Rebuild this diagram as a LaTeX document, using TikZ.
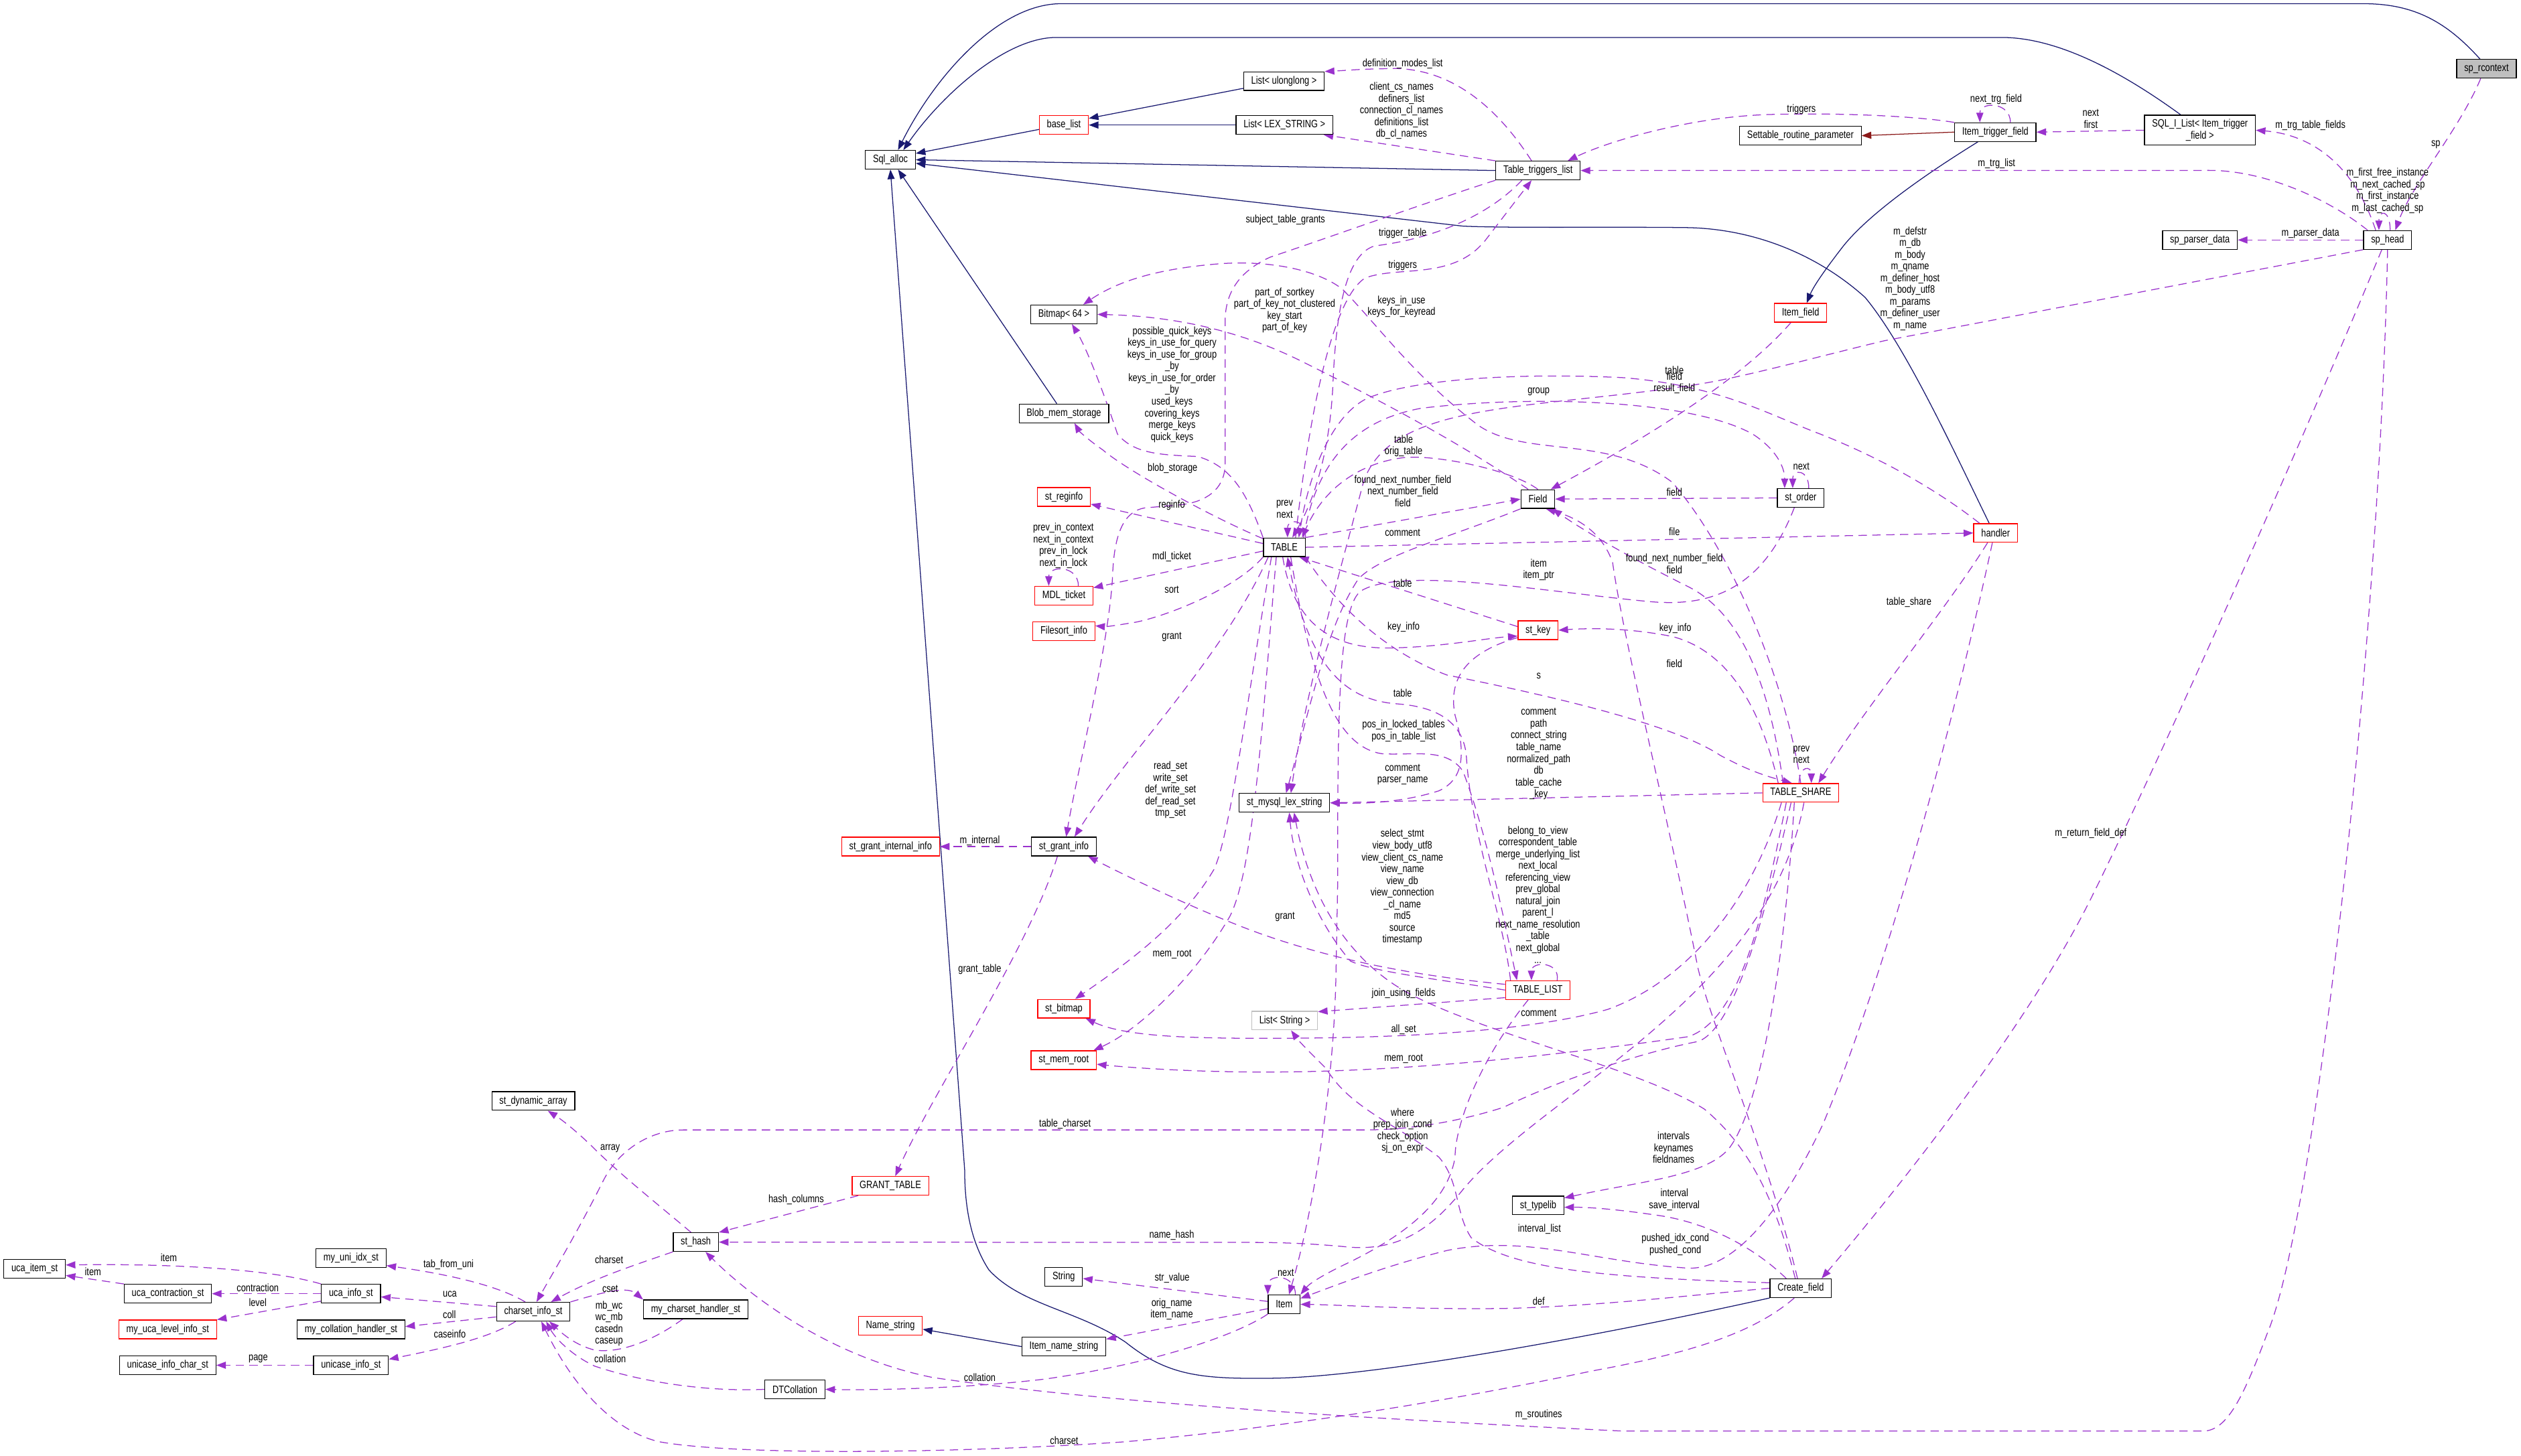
\documentclass[tikz,border=0pt]{standalone}
\usepackage{fontspec}
\setmainfont{Liberation Sans}[FakeStretch=0.8]
\usetikzlibrary{arrows.meta, positioning}
\definecolor{inhcol}{HTML}{191970}
\definecolor{memcol}{HTML}{9A32CD}
\definecolor{usecol}{HTML}{8B1A1A}
\definecolor{boxgray}{HTML}{BFBFBF}
\pgfdeclarelayer{edges}
\pgfsetlayers{edges,main}

\begin{document}
\begin{tikzpicture}[
        x=0.05cm, y=-0.05cm,
        box/.style  = {draw, fill=white, line width=0.75pt, inner xsep=0.235cm, inner ysep=0pt, minimum height=0.58cm, font=\fontsize{9.5}{10.4}\selectfont},
        rbox/.style = {box, draw=red},
        gbox/.style = {box, fill=boxgray},
        lbox/.style = {box, draw=boxgray},
        lbl/.style  = {inner sep=0pt, align=center, font=\fontsize{9.5}{10.4}\selectfont},
        inh/.style  = {draw=inhcol, line width=0.75pt, -{Triangle[length=0.3cm, width=0.22cm]}},
        use/.style  = {draw=usecol, line width=0.75pt, -{Triangle[length=0.3cm, width=0.22cm]}},
        mem/.style  = {draw=memcol, line width=0.75pt, dash pattern=on 0.26cm off 0.17cm, -{Triangle[length=0.3cm, width=0.22cm]}}
    ]
        \useasboundingbox (0,0) rectangle (1568,905.5);

        \node[gbox] (sprc)        at (1546.5,42.8)  {sp\_rcontext};
        \node[box]  (sqlalloc)    at (553.8,99.4)   {Sql\_alloc};
        \node[rbox] (baselist)    at (661.7,77.8)   {base\_list};
        \node[box]  (listull)     at (798.6,50.5)   {List< ulonglong >};
        \node[box]  (listlex)     at (798.9,77.8)   {List< LEX\_STRING >};
        \node[box]  (ttl)         at (956.6,106.1)  {Table\_triggers\_list};
        \node[box]  (srp)         at (1119.8,84.4)  {Settable\_routine\_parameter};
        \node[box]  (itf)         at (1241,82.2)    {Item\_trigger\_field};
        \node[box, align=center, minimum height=0.935cm] (sqlil) at (1368.3,81) {SQL\_I\_List< Item\_trigger\\\_field >};
        \node[box]  (sphead)      at (1485,149.3)   {sp\_head};
        \node[box]  (spparser)    at (1368.3,149.3) {sp\_parser\_data};
        \node[rbox] (itemfield)   at (1119.9,194.6) {Item\_field};
        \node[box]  (bitmap)      at (661.7,195.6)  {Bitmap< 64 >};
        \node[box]  (blob)        at (661.7,257.2)  {Blob\_mem\_storage};
        \node[rbox] (reginfo)     at (661.7,309.2)  {st\_reginfo};
        \node[rbox] (mdl)         at (661.7,370.6)  {MDL\_ticket};
        \node[rbox] (filesort)    at (661.7,392.8)  {Filesort\_info};
        \node[box]  (table)       at (798.8,340.5)  {TABLE};
        \node[box]  (field)       at (956.5,310.5)  {Field};
        \node[box]  (order)       at (1120,309.8)   {st\_order};
        \node[rbox] (handler)     at (1241.2,331.6) {handler};
        \node[rbox] (key)         at (956.6,392.1)  {st\_key};
        \node[box]  (lexstr)      at (798.9,499.5)  {st\_mysql\_lex\_string};
        \node[rbox] (share)       at (1120,493.3)   {TABLE\_SHARE};
        \node[box]  (grantinfo)   at (661.7,526.7)  {st\_grant\_info};
        \node[rbox] (grantint)    at (553.9,526.7)  {st\_grant\_internal\_info};
        \node[rbox] (tlist)       at (956.5,616)    {TABLE\_LIST};
        \node[lbox] (liststr)     at (799,635)      {List< String >};
        \node[rbox] (bitmapst)    at (661.7,627.6)  {st\_bitmap};
        \node[rbox] (memroot)     at (661.6,659.6)  {st\_mem\_root};
        \node[box]  (dynarr)      at (331.7,685)    {st\_dynamic\_array};
        \node[rbox] (granttab)    at (553.8,737.8)  {GRANT\_TABLE};
        \node[box]  (hash)        at (432.8,772.8)  {st\_hash};
        \node[box]  (typelib)     at (956.7,750)    {st\_typelib};
        \node[box]  (ucaitem)     at (21.5,789.4)   {uca\_item\_st};
        \node[box]  (uniidx)      at (218.3,782.7)  {my\_uni\_idx\_st};
        \node[box]  (ucacontr)    at (104.4,804.9)  {uca\_contraction\_st};
        \node[box]  (ucainfo)     at (218.3,804.9)  {uca\_info\_st};
        \node[rbox] (ucalevel)    at (104.3,827.1)  {my\_uca\_level\_info\_st};
        \node[box]  (collhandler) at (218.3,827.1)  {my\_collation\_handler\_st};
        \node[box]  (csinfo)      at (331.7,816.1)  {charset\_info\_st};
        \node[box]  (unicasechar) at (104.3,849.4)  {unicase\_info\_char\_st};
        \node[box]  (unicaseinfo) at (218.3,849.4)  {unicase\_info\_st};
        \node[box]  (cshandler)   at (432.7,814.6)  {my\_charset\_handler\_st};
        \node[box]  (string)      at (661.6,794.4)  {String};
        \node[box]  (item)        at (798.7,811.5)  {Item};
        \node[rbox] (namestr)     at (553.8,824.9)  {Name\_string};
        \node[box]  (itemname)    at (661.7,837.8)  {Item\_name\_string};
        \node[box]  (dtcoll)      at (494.4,864.4)  {DTCollation};
        \node[box]  (createfield) at (1120,801.5)   {Create\_field};

        \begin{pgfonlayer}{edges}
        \draw[inh] ([xshift=-0.2cm]sprc.north) .. controls (1522,14) and (1502,2.3) .. (1470,2.3) -- (660,2.3) .. controls (620,2.3) and (580,50) .. (sqlalloc.52);
        \draw[inh] ([xshift=-0.6cm]sqlil.north) .. controls (1320,45) and (1280,23.3) .. (1245,23.3) -- (657,23.3) .. controls (625,23.3) and (585,60) .. (sqlalloc.37);
        \draw[inh] (baselist.190) -- (sqlalloc.14);
        \draw[inh] (listull.190) -- (baselist.15);
        \draw[inh] (listlex.west) -- (baselist.east);
        \draw[inh] (ttl.west) -- (sqlalloc.east);
        \draw[inh] ([xshift=-0.2cm]handler.north) .. controls (1215,280) and (1185,215) .. (1160,185) .. controls (1130,158) and (1090,142) .. (1048,141.6) .. controls (1000,141) and (940,142) .. (910,140.7) -- (sqlalloc.-8);
        \draw[inh] ([xshift=-0.22cm]blob.north) -- (sqlalloc.-52);
        \draw[inh] (createfield.south west) .. controls (1000,830) and (850,858) .. (787,857.5) .. controls (745,858) and (725,855) .. (700,835) .. controls (670,815) and (635,812) .. (615,790) .. controls (602,770) and (600,745) .. (600,728) -- (sqlalloc.south);
        \draw[inh] (itemname.west) -- (namestr.-6);
        \draw[inh] ([xshift=-0.54cm]itf.south) .. controls (1195,110) and (1160,135) .. (1145,155) .. controls (1135,168) and (1128,178) .. ([xshift=0.19cm]itemfield.north);
        \draw[use] (itf.west) -- (srp.east);

        \draw[mem] ([xshift=-0.18cm]sprc.south) .. controls (1530,80) and (1500,115) .. ([xshift=0.24cm]sphead.north);
        \draw[mem] ([xshift=0.08cm]sphead.north) .. controls +(0,-13) and +(0,-13) .. ([xshift=-0.27cm]sphead.north);
        \draw[mem] ([xshift=-0.37cm]sphead.north) .. controls (1465,105) and (1440,84) .. (sqlil.east);
        \draw[mem] (sqlil.west) -- (itf.east);
        \draw[mem] ([xshift=0.47cm]itf.north) .. controls +(0,-13) and +(0,-13) .. ([xshift=-0.48cm]itf.north);
        \draw[mem] (itf.north west) .. controls (1190,72) and (1140,70) .. (1099,71.3) .. controls (1050,73) and (1000,88) .. ([xshift=-0.4cm]ttl.north east);
        \draw[mem] ([xshift=-0.62cm]sphead.north) .. controls (1450,125) and (1410,106) .. (1374,106) -- (ttl.east);
        \draw[mem] (sphead.west) -- (spparser.east);
        \draw[mem] (sphead.south west) -- (1172,212) .. controls (1130,222) and (1080,236) .. (1050,240) .. controls (950,255) and (865,250) .. (848,300) .. controls (835,350) and (812,430) .. ([xshift=0.2cm]lexstr.north);
        \draw[mem] ([xshift=-0.18cm]sphead.south) .. controls (1430,280) and (1340,480) .. (1300,560) .. controls (1260,640) and (1180,740) .. ([xshift=0.65cm]createfield.north);
        \draw[mem] (sphead.south) .. controls (1480,400) and (1440,760) .. (1410,830) .. controls (1395,870) and (1385,890.4) .. (1370,890.4) -- (1010,890.4) .. controls (900,885) and (700,875) .. (580,857) .. controls (520,845) and (470,810) .. ([xshift=0.3cm]hash.south);

        \draw[mem] ([xshift=-0.5cm]handler.north) .. controls (1205,305) and (1170,285) .. (1132,270) .. controls (1100,258) and (1070,240) .. (1010,235) .. controls (950,232) and (880,235) .. (850,248) .. controls (830,258) and (815,290) .. ([xshift=0.45cm]table.north);
        \draw[mem] ([xshift=-0.25cm]handler.south) .. controls (1210,380) and (1160,440) .. ([xshift=0.55cm]share.north);
        \draw[mem] ([xshift=-0.1cm]handler.south) .. controls (1215,450) and (1175,600) .. (1134,699) .. controls (1110,750) and (1080,790) .. (1050,789) .. controls (990,785) and (950,768) .. (900,778) .. controls (860,788) and (830,800) .. (item.20);
        \draw[mem] (table.east) -- (handler.west);
        \draw[mem] (table.north east) .. controls +(0,-12) and +(0,-12) .. ([xshift=0.1cm]table.north);
        \draw[mem] ([xshift=-0.5cm]ttl.south) .. controls (920,140) and (880,150) .. (855,153) .. controls (838,158) and (831,190) .. (829,240) .. controls (827,280) and (818,310) .. ([xshift=0.25cm]table.north);
        \draw[mem] ([xshift=0.35cm]table.north) .. controls (815,250) and (830,185) .. (849,173) .. controls (870,165) and (905,175) .. (925,148) .. controls (935,135) and (945,122) .. ([xshift=-0.2cm]ttl.south);
        \draw[mem] ([xshift=-0.2cm]ttl.north) .. controls (930,65) and (900,40) .. (860,42.8) .. controls (845,43) and (835,44) .. (listull.north east);
        \draw[mem] (ttl.north west) -- ([xshift=-0.3cm]listlex.south east);
        \draw[mem] ([xshift=-0.3cm]itemfield.south) .. controls (1080,240) and (1010,280) .. ([xshift=0.4cm]field.north);
        \draw[mem] ([xshift=0.6cm]table.north) .. controls (818,290) and (840,262) .. (884,254) .. controls (950,246) and (1050,248) .. (1090,270) .. controls (1104,279) and (1110,290) .. ([xshift=-0.5cm]order.north);
        \draw[mem] ([xshift=0.25cm]order.north) .. controls +(0,-12) and +(0,-12) .. ([xshift=-0.25cm]order.north);
        \draw[mem] (order.west) -- (field.east);
        \draw[mem] ([xshift=-0.2cm]order.south) .. controls (1095,370) and (1060,378) .. (1023,374) .. controls (960,368) and (870,352) .. (846,368) .. controls (832,380) and (832,450) .. (832,550) -- (831,602) .. controls (830,680) and (815,760) .. ([xshift=0.15cm]item.north);
        \draw[mem] (field.north) .. controls (940,292) and (890,282) .. (871,285) .. controls (850,288) and (825,300) .. ([xshift=0.55cm]table.north);
        \draw[mem] (table.north east) -- (field.west);
        \draw[mem] ([xshift=-0.3cm]field.north) .. controls (900,270) and (840,240) .. (810,225) .. controls (780,210) and (740,197) .. (bitmap.east);
        \draw[mem] (share.north) .. controls (1110,420) and (1075,340) .. (1040,300) .. controls (1000,270) and (950,285) .. (920,265) .. controls (880,235) and (855,200) .. (835,180) .. controls (820,168) and (790,162) .. (760,164) .. controls (720,167) and (695,175) .. ([xshift=0.6cm]bitmap.north);
        \draw[mem] (table.north west) .. controls (775,305) and (765,290) .. (745,284) .. controls (720,283) and (705,282) .. (695,270) .. controls (685,240) and (675,215) .. ([xshift=0.25cm]bitmap.south);
        \draw[mem] (table.158) .. controls (750,320) and (700,292) .. (686,280) .. controls (676,273) and (671,268) .. ([xshift=0.33cm]blob.south);
        \draw[mem] (table.170) -- (reginfo.-15);
        \draw[mem] (table.190) -- (mdl.15);
        \draw[mem] ([xshift=0.45cm]mdl.north) .. controls +(0,-13) and +(0,-13) .. ([xshift=-0.47cm]mdl.north);
        \draw[mem] (table.south west) .. controls (770,365) and (730,382) .. (707,387) .. controls (695,389) and (688,390) .. (filesort.10);
        \draw[mem] ([xshift=-0.5cm]table.south) .. controls (760,410) and (700,470) .. ([xshift=0.33cm]grantinfo.north);
        \draw[mem] (ttl.south west) .. controls (890,125) and (820,150) .. (790,160) .. controls (768,170) and (762,185) .. (762,200) -- (762,290) .. controls (761,305) and (750,312) .. (735,314) -- (712,316) .. controls (700,318) and (693,330) .. (692,358) .. controls (690,400) and (670,480) .. ([xshift=0.07cm]grantinfo.north);
        \draw[mem] ([xshift=-0.4cm]table.south) .. controls (775,440) and (765,520) .. (755,541) .. controls (735,575) and (700,600) .. ([xshift=0.35cm]bitmapst.north);
        \draw[mem] ([xshift=-0.25cm]table.south) .. controls (785,450) and (780,540) .. (765,570) .. controls (745,605) and (710,640) .. ([xshift=-0.1cm]memroot.north east);
        \draw[mem] ([xshift=-0.05cm]table.south) .. controls (805,390) and (830,405) .. (870,403) .. controls (900,402) and (925,397) .. (key.196);
        \draw[mem] (key.170) -- ([xshift=-0.2cm]table.south east);
        \draw[mem] (table.south east) .. controls (830,375) and (860,405) .. (900,420) .. controls (960,432) and (1040,450) .. (1070,470) .. controls (1085,478) and (1095,482) .. ([xshift=-0.27cm]share.north);
        \draw[mem] ([xshift=-0.05cm]share.north) .. controls +(0,-11) and +(0,-11) .. ([xshift=0.33cm]share.north);
        \draw[mem] ([xshift=-0.7cm]share.north) .. controls (1095,440) and (1075,405) .. (1040,396) .. controls (1010,390) and (985,391) .. (key.east);
        \draw[mem] ([xshift=-0.55cm]share.north) .. controls (1100,420) and (1080,380) .. (1050,365) .. controls (1010,345) and (985,330) .. ([xshift=0.45cm]field.south);
        \draw[mem] ([xshift=-0.1cm]createfield.north) .. controls (1100,720) and (1065,640) .. (1056,602) .. controls (1040,520) and (1010,400) .. (1003,350) .. controls (996,330) and (980,322) .. ([xshift=0.25cm]field.south);
        \draw[mem] (share.west) -- (lexstr.east);
        \draw[mem] (key.200) .. controls (915,405) and (900,420) .. (905,445) .. controls (912,470) and (910,485) .. (895,492) .. controls (870,500) and (845,500) .. (lexstr.east);
        \draw[mem] (field.south west) .. controls (900,335) and (860,345) .. (845,360) .. controls (825,390) and (815,440) .. ([xshift=0.05cm]lexstr.north);
        \draw[mem] (tlist.west) .. controls (900,610) and (855,605) .. (840,598) .. controls (820,575) and (805,540) .. ([xshift=0.15cm]lexstr.south);
        \draw[mem] ([xshift=-0.17cm]createfield.north) .. controls (1105,750) and (1090,715) .. (1060,690) .. controls (1020,665) and (930,645) .. (880,620) .. controls (840,600) and (815,560) .. ([xshift=0.3cm]lexstr.south);
        \draw[mem] ([xshift=-0.85cm]tlist.north) .. controls (935,570) and (915,520) .. (912,470) .. controls (910,450) and (895,440) .. (870,438) .. controls (840,436) and (815,420) .. ([xshift=0.1cm]table.south);
        \draw[mem] ([xshift=0.2cm]table.south) .. controls (815,420) and (830,465) .. (860,469) .. controls (880,470) and (900,465) .. (910,480) .. controls (925,520) and (935,570) .. ([xshift=-0.65cm]tlist.north);
        \draw[mem] ([xshift=0.6cm]tlist.north) .. controls +(2,-12) and +(0,-12) .. ([xshift=-0.2cm]tlist.north);
        \draw[mem] (tlist.170) .. controls (890,608) and (840,600) .. (790,583) .. controls (760,573) and (710,550) .. ([xshift=0.75cm]grantinfo.south);
        \draw[mem] (grantinfo.west) -- (grantint.east);
        \draw[mem] ([xshift=-0.2cm]grantinfo.south) .. controls (640,590) and (580,680) .. ([xshift=0.15cm]granttab.north);
        \draw[mem] (tlist.193) -- (liststr.15);
        \draw[mem] ([xshift=-0.3cm]tlist.south) .. controls (920,660) and (905,700) .. (905,720) .. controls (900,750) and (870,770) .. (840,785) .. controls (825,792) and (815,798) .. (item.north east);
        \draw[mem] (createfield.west) .. controls (1050,806) and (1000,812) .. (940,814) .. controls (880,815) and (840,812) .. (item.east);
        \draw[mem] ([xshift=0.35cm]item.north) .. controls +(0,-13) and +(0,-13) .. (item.north west);
        \draw[mem] (item.170) -- (string.-5);
        \draw[mem] (item.195) -- (itemname.10);
        \draw[mem] (item.south west) .. controls (770,830) and (720,848) .. (650,858) .. controls (600,864) and (540,865) .. (dtcoll.east);
        \draw[mem] (dtcoll.west) .. controls (440,866) and (400,860) .. (370,850) .. controls (355,843) and (345,832) .. ([xshift=0.4cm]csinfo.south);
        \draw[mem] ([xshift=-0.4cm]cshandler.south) .. controls (405,835) and (385,842) .. (370,840) .. controls (358,837) and (350,830) .. ([xshift=0.5cm]csinfo.south);
        \draw[mem] (csinfo.north east) .. controls (375,804) and (390,800) .. (cshandler.north west);
        \draw[mem] (hash.south west) .. controls (395,787) and (370,795) .. ([xshift=0.55cm]csinfo.north);
        \draw[mem] ([xshift=-0.3cm]share.south) .. controls (1100,560) and (1080,640) .. (1056,648) .. controls (1020,655) and (970,672) .. (935,689) .. controls (900,700) and (870,703) .. (849,703) -- (425,703) .. controls (405,703) and (385,715) .. (375,735) .. controls (360,765) and (345,790) .. ([xshift=0.1cm]csinfo.north);
        \draw[mem] ([xshift=-0.15cm]hash.north) .. controls (410,750) and (385,730) .. (370,715) .. controls (360,705) and (350,697) .. ([xshift=0.45cm]dynarr.south);
        \draw[mem] ([xshift=-1cm]granttab.south) -- (hash.north east);
        \draw[mem] ([xshift=0.1cm]share.south) .. controls (1100,620) and (960,680) .. (910,740) .. controls (890,765) and (870,778) .. (840,776) .. controls (820,774) and (800,773) .. (780,773) -- (hash.east);
        \draw[mem] ([xshift=-0.2cm]share.south) .. controls (1110,600) and (1095,690) .. (1075,715) .. controls (1060,732) and (1020,735) .. (typelib.16);
        \draw[mem] ([xshift=-0.45cm]createfield.north) .. controls (1090,775) and (1060,760) .. (1030,756) .. controls (1010,753) and (990,751) .. (typelib.-4);
        \draw[mem] (createfield.170) .. controls (1000,795) and (940,790) .. (915,770) .. controls (905,755) and (908,735) .. (895,720) .. controls (870,700) and (840,690) .. (825,665) .. controls (815,655) and (808,648) .. ([xshift=0.2cm]liststr.south);
        \draw[mem] ([xshift=-0.6cm]share.south) .. controls (1090,560) and (1050,610) .. (1000,628) .. controls (950,642) and (870,646) .. (788,646) .. controls (740,646) and (700,645) .. ([xshift=-0.15cm]bitmapst.south east);
        \draw[mem] ([xshift=-0.45cm]share.south) .. controls (1095,580) and (1080,635) .. (1050,645) .. controls (980,655) and (880,667) .. (787,667) .. controls (740,667) and (700,664) .. (memroot.-7);
        \draw[mem] ([xshift=-0.2cm]createfield.south) .. controls (1090,830) and (1050,842) .. (990,853) .. controls (900,872) and (800,888) .. (700,897) .. controls (600,904) and (460,906) .. (410,897) .. controls (380,890) and (355,860) .. ([xshift=0.25cm]csinfo.south);
        \draw[mem] ([xshift=-0.25cm]csinfo.north) .. controls (310,800) and (280,793) .. (uniidx.-12);
        \draw[mem] (csinfo.172) -- (ucainfo.-6);
        \draw[mem] (csinfo.188) -- (collhandler.3);
        \draw[mem] ([xshift=-0.55cm]csinfo.south) .. controls (305,832) and (280,838) .. (unicaseinfo.9);
        \draw[mem] (unicaseinfo.west) -- (unicasechar.east);
        \draw[mem] (ucainfo.north west) .. controls (170,790) and (110,786) .. (ucaitem.7);
        \draw[mem] (ucacontr.north west) -- (ucaitem.-12);
        \draw[mem] (ucainfo.west) -- (ucacontr.east);
        \draw[mem] (ucainfo.194) -- (ucalevel.north east);
        \end{pgfonlayer}

        \node[lbl] (lSp)         at (1515,90)     {sp};
        \node[lbl] (lTrgFields)  at (1437,78)     {m\_trg\_table\_fields};
        \node[lbl] (lNextFirst)  at (1300.4,74)   {next\\first};
        \node[lbl] (lNextTrg)    at (1241.5,62)   {next\_trg\_field};
        \node[lbl] (lTriggersA)  at (1120.4,68)   {triggers};
        \node[lbl] (lTrgList)    at (1241.8,102)  {m\_trg\_list};
        \node[lbl] (lInstances)  at (1485,118.7)  {m\_first\_free\_instance\\m\_next\_cached\_sp\\m\_first\_instance\\m\_last\_cached\_sp};
        \node[lbl] (lParser)     at (1437,145)    {m\_parser\_data};
        \node[lbl] (lDefstr)     at (1188,173.4)  {m\_defstr\\m\_db\\m\_body\\m\_qname\\m\_definer\_host\\m\_body\_utf8\\m\_params\\m\_definer\_user\\m\_name};
        \node[lbl] (lModes)      at (872.4,39.5)  {definition\_modes\_list};
        \node[lbl] (lNames)      at (871.7,68.9)  {client\_cs\_names\\definers\_list\\connection\_cl\_names\\definitions\_list\\db\_cl\_names};
        \node[lbl] (lSubject)    at (799.5,137)   {subject\_table\_grants};
        \node[lbl] (lTrigTable)  at (872.4,145)   {trigger\_table};
        \node[lbl] (lTriggersB)  at (872.4,165)   {triggers};
        \node[lbl] (lPartKey)    at (799,193)     {part\_of\_sortkey\\part\_of\_key\_not\_clustered\\key\_start\\part\_of\_key};
        \node[lbl] (lKeysInUse)  at (871.7,190.8) {keys\_in\_use\\keys\_for\_keyread};
        \node[lbl] (lQuickKeys)  at (729,239.2)   {possible\_quick\_keys\\keys\_in\_use\_for\_query\\keys\_in\_use\_for\_group\\\_by\\keys\_in\_use\_for\_order\\\_by\\used\_keys\\covering\_keys\\merge\_keys\\quick\_keys};
        \node[lbl] (lBlob)       at (729.3,291.6) {blob\_storage};
        \node[lbl] (lTableH)     at (1041.4,230.3) {table};
        \node[lbl] (lFieldRes)   at (1041.4,238.3) {field\\result\_field};
        \node[lbl] (lGroup)      at (957,243.8)   {group};
        \node[lbl] (lOrigTable)  at (873,277.5)   {table\\orig\_table};
        \node[lbl] (lNextNum)    at (872.5,305.4) {found\_next\_number\_field\\next\_number\_field\\field};
        \node[lbl] (lNextOrd)    at (1120.4,290)  {next};
        \node[lbl] (lPrevNextT)  at (799,316.9)   {prev\\next};
        \node[lbl] (lReginfo)    at (728.8,314.5) {reginfo};
        \node[lbl] (lMdlLoop)    at (661.4,339.5) {prev\_in\_context\\next\_in\_context\\prev\_in\_lock\\next\_in\_lock};
        \node[lbl] (lMdl)        at (728.8,346.2) {mdl\_ticket};
        \node[lbl] (lComment)    at (872.4,331.4) {comment};
        \node[lbl] (lFile)       at (1041.4,330.8) {file};
        \node[lbl] (lFieldOrd)   at (1041.4,306)  {field};
        \node[lbl] (lShareField) at (1041.4,350.7) {found\_next\_number\_field\\field};
        \node[lbl] (lItemPtr)    at (957,354.6)   {item\\item\_ptr};
        \node[lbl] (lKeyTable)   at (872.4,363)   {table};
        \node[lbl] (lSort)       at (728.8,366.9) {sort};
        \node[lbl] (lKeyInfoA)   at (873,390)     {key\_info};
        \node[lbl] (lKeyInfoB)   at (1042,391.1)  {key\_info};
        \node[lbl] (lGrantA)     at (728.8,396.4) {grant};
        \node[lbl] (lCfField)    at (1041.4,413)  {field};
        \node[lbl] (lS)          at (957,420.4)   {s};
        \node[lbl] (lTlTable)    at (872.4,431)   {table};
        \node[lbl] (lPos)        at (873,454.8)   {pos\_in\_locked\_tables\\pos\_in\_table\_list};
        \node[lbl] (lShareLex)   at (957,469.1)   {comment\\path\\connect\_string\\table\_name\\normalized\_path\\db\\table\_cache\\\_key};
        \node[lbl] (lKeyLex)     at (872.4,481.8) {comment\\parser\_name};
        \node[lbl] (lPrevNextS)  at (1120.4,469.5) {prev\\next};
        \node[lbl] (lTableShare) at (1187.3,374.8) {table\_share};
        \node[lbl] (lSets)       at (728,491.5)   {read\_set\\write\_set\\def\_write\_set\\def\_read\_set\\tmp\_set};
        \node[lbl] (lInternal)   at (609.4,523)   {m\_internal};
        \node[lbl] (lView)       at (872.2,552)   {select\_stmt\\view\_body\_utf8\\view\_client\_cs\_name\\view\_name\\view\_db\\view\_connection\\\_cl\_name\\md5\\source\\timestamp};
        \node[lbl] (lTlLoop)     at (956.5,556.6) {belong\_to\_view\\correspondent\_table\\merge\_underlying\_list\\next\_local\\referencing\_view\\prev\_global\\natural\_join\\parent\_l\\next\_name\_resolution\\\_table\\next\_global\\...};
        \node[lbl] (lGrantB)     at (799.2,570.4) {grant};
        \node[lbl] (lMemA)       at (729,593.9)   {mem\_root};
        \node[lbl] (lGrantTab)   at (609.4,603)   {grant\_table};
        \node[lbl] (lJoin)       at (873,618.2)   {join\_using\_fields};
        \node[lbl] (lCfComment)  at (957,630.3)   {comment};
        \node[lbl] (lAllSet)     at (873,640.4)   {all\_set};
        \node[lbl] (lMemB)       at (873,658.8)   {mem\_root};
        \node[lbl] (lArray)      at (379.5,714.7) {array};
        \node[lbl] (lCharsetT)   at (662.4,699.4) {table\_charset};
        \node[lbl] (lWhere)      at (872.4,703.5) {where\\prep\_join\_cond\\check\_option\\sj\_on\_expr};
        \node[lbl] (lHashCol)    at (495.2,746.3) {hash\_columns};
        \node[lbl] (lIntervals)  at (1040.9,713.9) {intervals\\keynames\\fieldnames};
        \node[lbl] (lInterval)   at (1041.4,746.4) {interval\\save\_interval};
        \node[lbl] (lIntList)    at (957.5,764.6) {interval\_list};
        \node[lbl] (lNameHash)   at (728.8,768.5) {name\_hash};
        \node[lbl] (lPushed)     at (1042,774.3)  {pushed\_idx\_cond\\pushed\_cond};
        \node[lbl] (lCharsetH)   at (378.8,783.6) {charset};
        \node[lbl] (lItemA)      at (105,782.6)   {item};
        \node[lbl] (lItemB)      at (57.8,791)    {item};
        \node[lbl] (lTabUni)     at (279,786.9)   {tab\_from\_uni};
        \node[lbl] (lNextItem)   at (799.7,791.7) {next};
        \node[lbl] (lStrVal)     at (729,795.2)   {str\_value};
        \node[lbl] (lCset)       at (379.5,802)   {cset};
        \node[lbl] (lContr)      at (160.3,801)   {contraction};
        \node[lbl] (lUca)        at (279.8,805.3) {uca};
        \node[lbl] (lDef)        at (957,809.7)   {def};
        \node[lbl] (lMbwc)       at (378.8,823.5) {mb\_wc\\wc\_mb\\casedn\\caseup};
        \node[lbl] (lLevel)      at (160.3,810.3) {level};
        \node[lbl] (lColl)       at (279.5,817.7) {coll};
        \node[lbl] (lOrigName)   at (728.8,814.6) {orig\_name\\item\_name};
        \node[lbl] (lCaseinfo)   at (279.8,829.9) {caseinfo};
        \node[lbl] (lCollA)      at (379.5,845.3) {collation};
        \node[lbl] (lPage)       at (160.6,845.3) {page};
        \node[lbl] (lCollB)      at (609.4,857)   {collation};
        \node[lbl] (lSroutines)  at (957,880.2)   {m\_sroutines};
        \node[lbl] (lCharsetC)   at (661.9,896.4) {charset};
        \node[lbl] (lRetField)   at (1300.4,518.3) {m\_return\_field\_def};
    \end{tikzpicture}
\end{document}
